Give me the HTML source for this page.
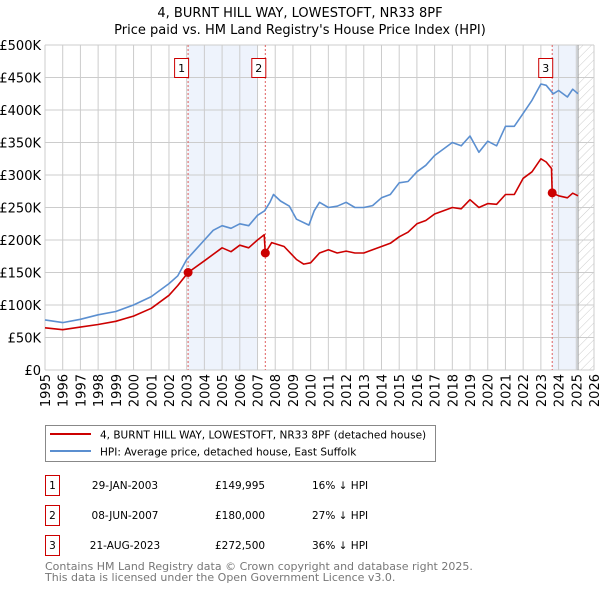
<!DOCTYPE html>
<html><head><meta charset="utf-8"><style>
body{margin:0;background:#fff;font-family:"DejaVu Sans","Liberation Sans",sans-serif;}
svg text{font-family:"DejaVu Sans","Liberation Sans",sans-serif;}
</style></head><body>
<svg id="c" width="600" height="590" viewBox="0 0 600 590" xmlns="http://www.w3.org/2000/svg">
<defs><pattern id="hatch" width="6" height="6" patternUnits="userSpaceOnUse" patternTransform="rotate(45)"><line x1="0" y1="0" x2="0" y2="6" stroke="#ccc" stroke-width="1"/></pattern></defs>
<text x="300" y="17" text-anchor="middle" font-size="13">4, BURNT HILL WAY, LOWESTOFT, NR33 8PF</text>
<text x="300" y="34" text-anchor="middle" font-size="13">Price paid vs. HM Land Registry's House Price Index (HPI)</text>
<g id="plot"></g>
<rect x="45.5" y="425.5" width="390" height="36" fill="#fff" stroke="#888"/>
<line x1="50" y1="434" x2="91" y2="434" stroke="#cc0000" stroke-width="2"/>
<text x="100" y="438.5" font-size="10.5">4, BURNT HILL WAY, LOWESTOFT, NR33 8PF (detached house)</text>
<line x1="50" y1="451" x2="91" y2="451" stroke="#5b8fd0" stroke-width="2"/>
<text x="100" y="455.5" font-size="10.5">HPI: Average price, detached house, East Suffolk</text>
<g font-size="10.5">
<rect x="45.5" y="475.5" width="14" height="20" fill="none" stroke="#cc0000"/><text x="52.5" y="489" text-anchor="middle">1</text>
<text x="125" y="489" text-anchor="middle">29-JAN-2003</text><text x="215" y="489">£149,995</text><text x="312" y="489">16% ↓ HPI</text>
<rect x="45.5" y="505.5" width="14" height="20" fill="none" stroke="#cc0000"/><text x="52.5" y="519" text-anchor="middle">2</text>
<text x="125" y="519" text-anchor="middle">08-JUN-2007</text><text x="215" y="519">£180,000</text><text x="312" y="519">27% ↓ HPI</text>
<rect x="45.5" y="535.5" width="14" height="20" fill="none" stroke="#cc0000"/><text x="52.5" y="549" text-anchor="middle">3</text>
<text x="125" y="549" text-anchor="middle">21-AUG-2023</text><text x="215" y="549">£272,500</text><text x="312" y="549">36% ↓ HPI</text>
</g>
<text x="45" y="570" font-size="11" fill="#777">Contains HM Land Registry data © Crown copyright and database right 2025.</text>
<text x="45" y="581" font-size="11" fill="#777">This data is licensed under the Open Government Licence v3.0.</text>
</svg>
<script>
const hpiYears=[1995,1996,1997,1998,1999,2000,2001,2002,2002.5,2003,2003.5,2004,2004.5,2005,2005.5,2006,2006.5,2007,2007.4,2007.7,2007.9,2008.3,2008.8,2009.2,2009.9,2010.2,2010.5,2011,2011.5,2012,2012.5,2013,2013.5,2014,2014.5,2015,2015.5,2016,2016.5,2017,2017.5,2018,2018.5,2019,2019.5,2020,2020.5,2021,2021.5,2022,2022.5,2023,2023.3,2023.7,2024,2024.5,2024.8,2025.1];
const hpiValues=[77,73,78,85,90,100,113,133,145,170,185,200,215,222,218,225,222,238,245,258,270,260,252,232,223,245,258,250,252,258,250,250,253,265,270,288,290,305,315,330,340,350,345,360,335,352,345,375,375,395,415,440,438,425,430,420,432,425];
const ppYears=[1995,1996,1997,1998,1999,2000,2001,2002,2002.5,2003.08,2004,2005,2005.5,2006,2006.5,2007,2007.38,2007.44,2007.8,2008.5,2009.2,2009.6,2010,2010.5,2011,2011.5,2012,2012.5,2013,2013.5,2014,2014.5,2015,2015.5,2016,2016.5,2017,2017.5,2018,2018.5,2019,2019.5,2020,2020.5,2021,2021.5,2022,2022.5,2023,2023.3,2023.6,2023.64,2024,2024.5,2024.8,2025.1];
const ppValues=[65,62,66,70,75,83,95,115,130,150,168,188,182,192,188,200,208,180,196,190,170,163,165,180,185,180,183,180,180,185,190,195,205,212,225,230,240,245,250,248,262,250,256,255,270,270,295,305,325,320,310,272.5,268,265,272,268];
const saleYears=[2003.08,2007.44,2023.64];
const saleValues=[149.995,180,272.5];
const saleLabels=["1","2","3"];
const yTicks=[0,50,100,150,200,250,300,350,400,450,500];
const yTickLabels=["£0","£50K","£100K","£150K","£200K","£250K","£300K","£350K","£400K","£450K","£500K"];
const xTicks=[1995,1996,1997,1998,1999,2000,2001,2002,2003,2004,2005,2006,2007,2008,2009,2010,2011,2012,2013,2014,2015,2016,2017,2018,2019,2020,2021,2022,2023,2024,2025,2026];

const L=45,R=594,T=45,B=370;
const X=y=>L+(y-1995)*(R-L)/31;
const Y=v=>B-v*(B-T)/500;
const NS="http://www.w3.org/2000/svg";
const g=document.getElementById('plot');
function mk(tag,attrs,parent){const e=document.createElementNS(NS,tag);for(const k in attrs)e.setAttribute(k,attrs[k]);(parent||g).appendChild(e);return e;}
let s=mk('rect',{x:X(2003.08),y:T,width:X(2007.0)-X(2003.08),height:B-T,fill:'#eef3fc'});


s=mk('rect',{x:X(2023.64),y:T,width:X(2025.1)-X(2023.64),height:B-T,fill:'#eef3fc'});


s=mk('rect',{x:X(2025.1),y:T,width:R-X(2025.1),height:B-T,fill:'url(#hatch)'});


yTicks.forEach((v,i)=>{
 const l=mk('line',{x1:L,x2:R,y1:Y(v),y2:Y(v),stroke:'#ccc','stroke-width':1});
 
 
 const t=mk('text',{x:L-4,y:Y(v)+5,'text-anchor':'end','font-size':13});
 t.textContent=yTickLabels[i];
 
 
});
xTicks.forEach(yr=>{
 const l=mk('line',{x1:X(yr),x2:X(yr),y1:T,y2:B,stroke:'#ccc','stroke-width':1});
 
 
 const t=mk('text',{x:0,y:0,'text-anchor':'end','font-size':13,transform:`translate(${X(yr)+5},${B+4}) rotate(-90)`});
 t.textContent=yr;
 
 
});
const el=mk('line',{x1:X(2025.1),x2:X(2025.1),y1:T,y2:B,stroke:'#999','stroke-width':1});


saleYears.forEach((yr,i)=>{
 const v=mk('line',{x1:X(yr),x2:X(yr),y1:T,y2:B,stroke:'#e06060','stroke-width':1,'stroke-dasharray':'2,2'});
 
 
 const r=mk('rect',{x:X(yr)-13.5,y:58.5,width:14,height:19,fill:'#fff',stroke:'#cc0000'});
 
 
 const t=mk('text',{x:X(yr)-6.5,y:72,'text-anchor':'middle','font-size':11});
 t.textContent=saleLabels[i];
 
 
});
function path(xs,vs,col,name){
 const d=xs.map((x,i)=>(i?'L':'M')+X(x).toFixed(1)+','+Y(vs[i]).toFixed(1)).join('');
 const p=mk('path',{d:d,fill:'none',stroke:col,'stroke-width':1.6,'stroke-linejoin':'round'});
 
 
}
path(hpiYears,hpiValues,'#5b8fd0','hpi-line');
path(ppYears,ppValues,'#cc0000','price-paid-line');
saleYears.forEach((yr,i)=>{
 const c=mk('circle',{cx:X(yr),cy:Y(saleValues[i]),r:4.5,fill:'#cc0000'});
 
 
});
</script>
</body></html>
